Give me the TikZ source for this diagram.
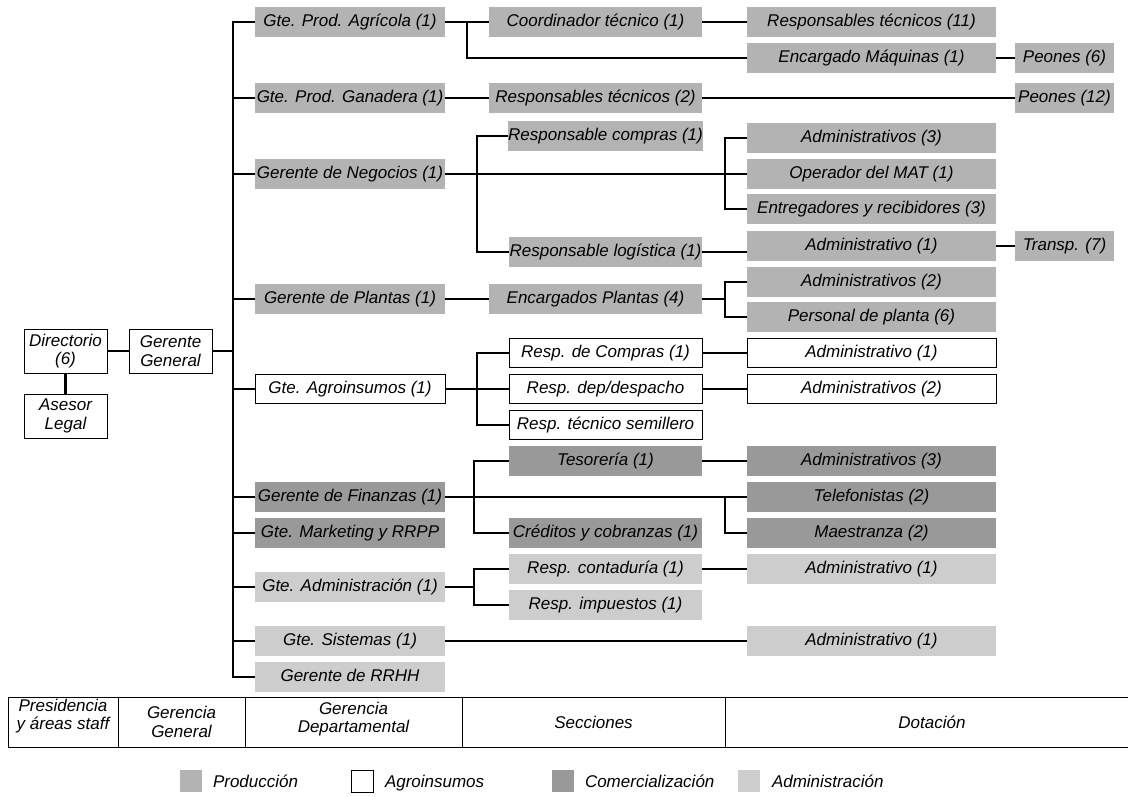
\documentclass[tikz,border=0pt]{standalone}
\usepackage{fontspec}
\setmainfont{Liberation Sans}
\definecolor{prodc}{RGB}{179,179,179}
\definecolor{commc}{RGB}{153,153,153}
\definecolor{admc}{RGB}{205,205,205}
\begin{document}
\begin{tikzpicture}[x=1pt,y=-1pt,
  every node/.style={font=\fontsize{17}{18.5}\selectfont\itshape, inner sep=0pt, outer sep=0pt},
  box/.style={minimum height=29.5pt, anchor=center, text height=12.5pt, text depth=3.5pt},
  prod/.style={box, fill=prodc},
  agri/.style={box, fill=white, draw=black, line width=1pt},
  comm/.style={box, fill=commc},
  admi/.style={box, fill=admc},
  lvtwo/.style={minimum width=190pt},
  secw/.style={minimum width=213pt},
  secn/.style={minimum width=193pt},
  dota/.style={minimum width=249pt},
  extra/.style={minimum width=99pt},
  topbox/.style={draw=black, fill=white, line width=1pt, minimum width=83pt, minimum height=44pt, align=center},
  cell/.style={draw=black, line width=1pt, minimum height=50pt},
  swatch/.style={minimum size=22pt},
  label/.style={anchor=base west},
  conn/.style={line width=2.6pt}
]
\useasboundingbox (0,0) rectangle (1128,796);

% ---- presidencia y gerencia general
\node[topbox] (dir) at (65.5,351) {Directorio\\(6)};
\node[topbox] (gg)  at (170.5,351) {Gerente\\General};
\node[topbox] (ase) at (65.5,416) {Asesor\\Legal};

% ---- gerencias departamentales
\node[prod,lvtwo] (agr)  at (350,22)  {Gte. Prod. Agrícola (1)};
\node[prod,lvtwo] (gan)  at (350,98)  {Gte. Prod. Ganadera (1)};
\node[prod,lvtwo] (neg)  at (350,174) {Gerente de Negocios (1)};
\node[prod,lvtwo] (pla)  at (350,299) {Gerente de Plantas (1)};
\node[agri,lvtwo] (agro) at (350,389) {Gte. Agroinsumos (1)};
\node[comm,lvtwo] (fin)  at (350,497) {Gerente de Finanzas (1)};
\node[comm,lvtwo] (mkt)  at (350,533) {Gte. Marketing y RRPP};
\node[admi,lvtwo] (adm)  at (350,587) {Gte. Administración (1)};
\node[admi,lvtwo] (sis)  at (350,641) {Gte. Sistemas (1)};
\node[admi,lvtwo] (rrhh) at (350,677) {Gerente de RRHH};

% ---- secciones
\node[prod,secw] (coord) at (595.5,22)  {Coordinador técnico (1)};
\node[prod,secw] (rtec)  at (595.5,98)  {Responsables técnicos (2)};
\node[prod,secw] (encp)  at (595.5,299) {Encargados Plantas (4)};
\node[prod,secn] (rcomp) at (605.5,136) {Responsable compras (1)};
\node[prod,secn] (rlog)  at (605.5,252) {Responsable logística (1)};
\node[agri,secn] (rdc)   at (605.5,353) {Resp. de Compras (1)};
\node[agri,secn] (rdd)   at (605.5,389) {Resp. dep/despacho};
\node[agri,secn] (rts)   at (605.5,425) {Resp. técnico semillero};
\node[comm,secn] (tes)   at (605.5,461) {Tesorería (1)};
\node[comm,secn] (cred)  at (605.5,533) {Créditos y cobranzas (1)};
\node[admi,secn] (rcont) at (605.5,569) {Resp. contaduría (1)};
\node[admi,secn] (rimp)  at (605.5,605) {Resp. impuestos (1)};

% ---- dotacion
\node[prod,dota] (rt11)  at (871.5,22)  {Responsables técnicos (11)};
\node[prod,dota] (encm)  at (871.5,58)  {Encargado Máquinas (1)};
\node[prod,dota] (adm3)  at (871.5,138) {Administrativos (3)};
\node[prod,dota] (mat)   at (871.5,174) {Operador del MAT (1)};
\node[prod,dota] (ent)   at (871.5,209) {Entregadores y recibidores (3)};
\node[prod,dota] (adm1l) at (871.5,246) {Administrativo (1)};
\node[prod,dota] (adm2p) at (871.5,282) {Administrativos (2)};
\node[prod,dota] (pers)  at (871.5,317) {Personal de planta (6)};
\node[agri,dota] (adm1w) at (871.5,353) {Administrativo (1)};
\node[agri,dota] (adm2w) at (871.5,389) {Administrativos (2)};
\node[comm,dota] (adm3c) at (871.5,461) {Administrativos (3)};
\node[comm,dota] (tel)   at (871.5,497) {Telefonistas (2)};
\node[comm,dota] (mae)   at (871.5,533) {Maestranza (2)};
\node[admi,dota] (adm1a) at (871.5,569) {Administrativo (1)};
\node[admi,dota] (adm1s) at (871.5,641) {Administrativo (1)};

\node[prod,extra] (peo6)   at (1064.5,58)  {Peones (6)};
\node[prod,extra] (peo12)  at (1064.5,98)  {Peones (12)};
\node[prod,extra] (transp) at (1064.5,246) {Transp. (7)};

% ---- branch points
\coordinate (bus)  at (233,22);
\coordinate (agrb) at (467,22);
\coordinate (negb) at (477,174);
\coordinate (negd) at (725,174);
\coordinate (plab) at (725,299);
\coordinate (agrob) at (477,389);
\coordinate (finb) at (474,497);
\coordinate (find) at (725,497);
\coordinate (admb) at (474,587);

% ---- connectors
\draw[conn] (dir.east) -- (gg.west);
\draw[conn] (dir.south) -- (ase.north);
\draw[conn] (gg.east) -- (gg.east -| bus);
\draw[conn] (agr.west) -- (bus) -- (rrhh.west -| bus) -- (rrhh.west);
\foreach \n in {gan,neg,pla,agro,fin,mkt,adm,sis}
  \draw[conn] (\n.west) -- (\n.west -| bus);

\draw[conn] (agr.east) -- (coord.west);
\draw[conn] (coord.east) -- (rt11.west);
\draw[conn] (agrb) |- (encm.west);
\draw[conn] (encm.east) -- (peo6.west);

\draw[conn] (gan.east) -- (rtec.west);
\draw[conn] (rtec.east) -- (peo12.west);

\draw[conn] (neg.east) -- (mat.west);
\draw[conn] (rcomp.west) -- (rcomp.west -| negb) -- (rlog.west -| negb) -- (rlog.west);
\draw[conn] (adm3.west) -- (adm3.west -| negd) -- (ent.west -| negd) -- (ent.west);
\draw[conn] (rlog.east) -- (rlog.east -| adm1l.west);
\draw[conn] (adm1l.east) -- (transp.west);

\draw[conn] (pla.east) -- (encp.west);
\draw[conn] (encp.east) -- (plab);
\draw[conn] (adm2p.west) -- (adm2p.west -| plab) -- (pers.west -| plab) -- (pers.west);

\draw[conn] (agro.east) -- (rdd.west);
\draw[conn] (rdc.west) -- (rdc.west -| agrob) -- (rts.west -| agrob) -- (rts.west);
\draw[conn] (rdc.east) -- (adm1w.west);
\draw[conn] (rdd.east) -- (adm2w.west);

\draw[conn] (fin.east) -- (fin.east -| tel.west);
\draw[conn] (tes.west) -- (tes.west -| finb) -- (cred.west -| finb) -- (cred.west);
\draw[conn] (find) |- (mae.west);
\draw[conn] (tes.east) -- (adm3c.west);

\draw[conn] (adm.east) -- (admb);
\draw[conn] (rcont.west) -- (rcont.west -| admb) -- (rimp.west -| admb) -- (rimp.west);
\draw[conn] (rcont.east) -- (adm1a.west);

\draw[conn] (sis.east) -- (adm1s.west);

% ---- level table
\node[cell, minimum width=110pt] (c1) at (63,722)    {};
\node[cell, minimum width=127pt] (c2) at (181.5,722) {};
\node[cell, minimum width=217pt] (c3) at (353.5,722) {};
\node[cell, minimum width=263pt] (c4) at (593.5,722) {};
\node[cell, minimum width=420pt] (c5) at (935,722)   {};
\node[align=center] (t1) at (63,716)    {Presidencia\\y áreas staff};
\node[align=center] (t2) at (181.5,722) {Gerencia\\General};
\node[align=center] (t3) at (353.5,719) {Gerencia\\Departamental};
\node (t4) at (593.5,722) {Secciones};
\node (t5) at (932,722)   {Dotación};

% ---- legend
\node[swatch, fill=prodc] (lp) at (191,781) {};
\node[label] (lpt) at (213,787) {Producción};
\node[swatch, fill=white, draw=black, line width=1pt] (la) at (362.5,781) {};
\node[label] (lat) at (385,787) {Agroinsumos};
\node[swatch, fill=commc] (lc) at (563,781) {};
\node[label] (lct) at (585,787) {Comercialización};
\node[swatch, fill=admc] (ld) at (749,781) {};
\node[label] (ldt) at (772,787) {Administración};
\end{tikzpicture}
\end{document}
